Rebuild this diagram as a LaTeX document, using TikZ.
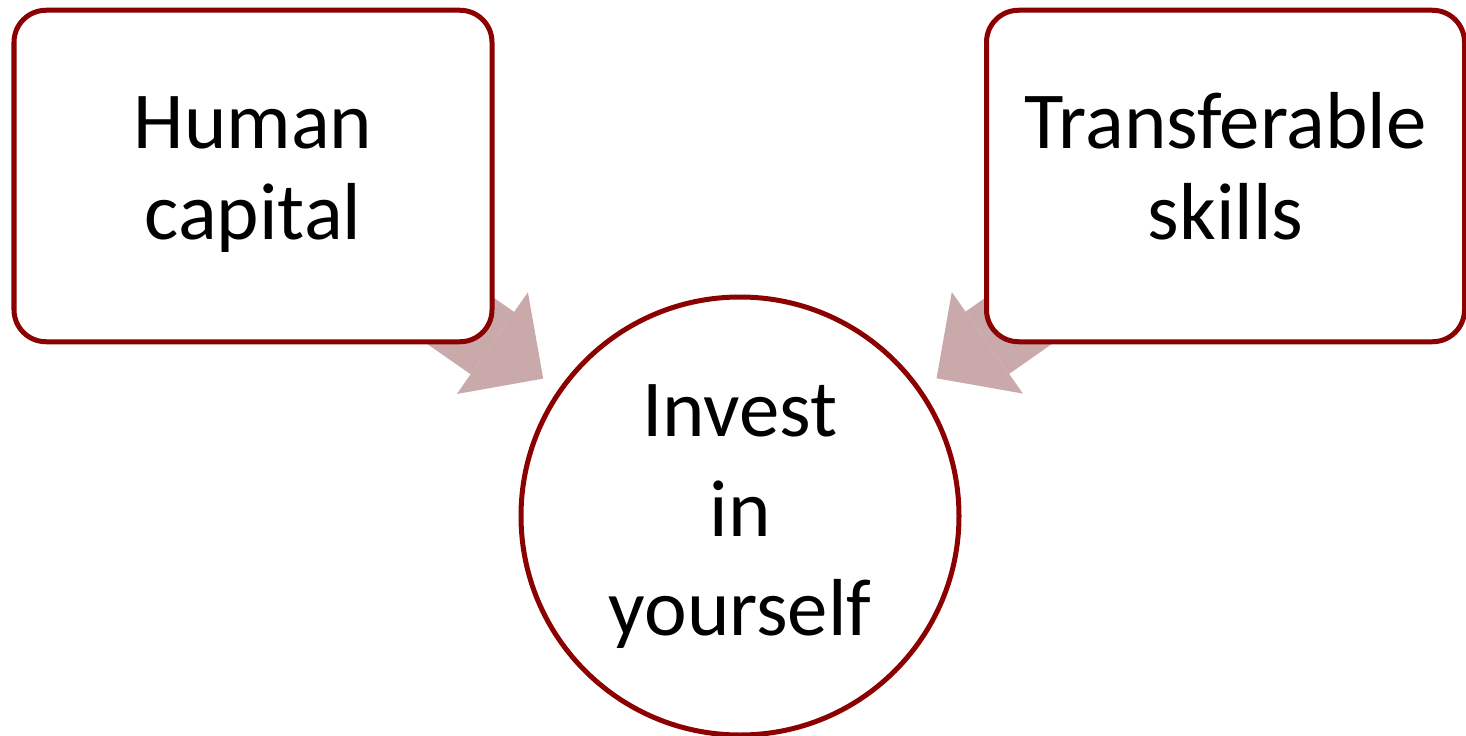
\documentclass[tikz,border=0pt]{standalone}
\usepackage{fontspec}
\setmainfont{Carlito}
\usetikzlibrary{arrows.meta,positioning,calc,backgrounds}
\definecolor{boxred}{RGB}{139,0,0}
\definecolor{arrowpink}{RGB}{201,169,170}
\tikzset{
    idea/.style={draw=boxred, line width=0.05cm, fill=white, rounded corners=0.32cm, minimum width=4.78cm, minimum height=3.315cm, outer sep=0pt, align=center, font=\fontsize{23}{25.9}\selectfont},
    goal/.style={draw=boxred, line width=0.05cm, fill=white, circle, minimum size=4.38cm, inner sep=0pt, outer sep=0pt, align=center, font=\fontsize{23}{28.45}\selectfont},
    flow/.style={-{Triangle[length=0.62cm, width=1.24cm, line width=0pt]}, line width=0.76cm, arrowpink}
}

\begin{document}
\begin{tikzpicture}
    \useasboundingbox (0,0) rectangle (14.66,-7.36);
    \node[idea] (human) at (2.53,-1.76) {\strut Human\\capital\strut};
    \node[idea, right=4.945cm of human] (skills) {\strut Transferable\\skills\strut};
    \node[goal] (invest) at (7.40,-5.16) {\strut Invest\\in\\yourself\strut};

    \begin{scope}[on background layer]
        \draw[flow] (human.center) -- ($(invest.center)!2.4cm!(human.center)$);
        \draw[flow] (skills.center) -- ($(invest.center)!2.4cm!(skills.center)$);
    \end{scope}
\end{tikzpicture}
\end{document}
